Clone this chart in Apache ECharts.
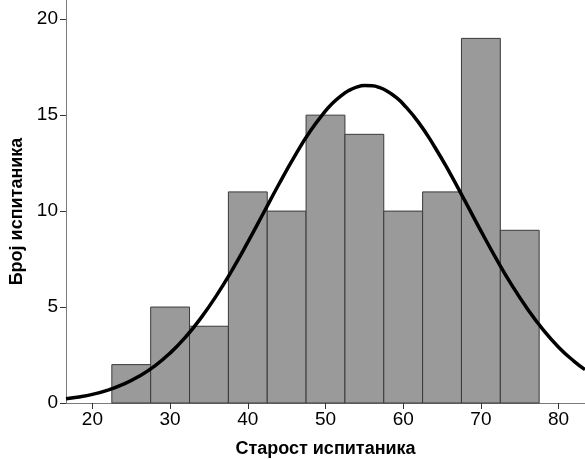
<!DOCTYPE html>
<html><head><meta charset="utf-8">
<script src="https://cdn.jsdelivr.net/npm/echarts@6/dist/echarts.min.js"></script>
<style>html,body{margin:0;padding:0;background:#fff}#c{width:585px;height:459px}</style>
</head><body><div id="c"></div>
<script>
// Histogram bins (age), width 5
const binStarts = [22.5, 27.5, 32.5, 37.5, 42.5, 47.5, 52.5, 57.5, 62.5, 67.5, 72.5];
const binWidth = 5;
const counts = [2, 5, 4, 11, 10, 15, 14, 10, 11, 19, 9];
// Normal curve
const curveX = [16.6, 18, 20, 22, 24, 26, 28, 30, 32, 34, 36, 38, 40, 42, 44, 46, 48, 50, 51, 52, 53, 54, 55, 56, 57, 58, 59, 60, 62, 64, 66, 68, 70, 72, 74, 76, 78, 80, 82, 83.4];
const curveY = [0.22, 0.30, 0.45, 0.67, 0.98, 1.39, 1.92, 2.60, 3.44, 4.45, 5.62, 6.94, 8.38, 9.89, 11.40, 12.84, 14.15, 15.22, 15.66, 16.01, 16.28, 16.46, 16.54, 16.53, 16.43, 16.23, 15.95, 15.58, 14.61, 13.38, 11.99, 10.49, 8.97, 7.50, 6.13, 4.90, 3.82, 2.91, 2.17, 1.74];
const xTicks = [20, 30, 40, 50, 60, 70, 80];
const yTicks = [0, 5, 10, 15, 20];

const chart = echarts.init(document.getElementById('c'));
const barData = binStarts.map((s, i) => [s, s + binWidth, counts[i]]);
const lineData = curveX.map((x, i) => [x, curveY[i]]);
const font = '"Liberation Sans", Arial, sans-serif';
chart.setOption({
  animation: false,
  grid: {left: 66, right: 0, top: 0, bottom: 56, containLabel: false, outerBoundsMode: 'none'},
  xAxis: {
    type: 'value', min: 16.6, max: 83.4,
    name: 'Старост испитаника', nameLocation: 'middle', nameGap: 37,
    nameTextStyle: {fontFamily: font, fontWeight: 'bold', fontSize: 18, color: '#000'},
    axisLine: {show: true, lineStyle: {color: '#7a7a7a', width: 1}},
    axisTick: {show: true, length: 6, customValues: xTicks, lineStyle: {color: '#333'}},
    axisLabel: {customValues: xTicks, fontFamily: font, fontSize: 19, color: '#000', margin: 7},
    splitLine: {show: false}
  },
  yAxis: {
    type: 'value', min: 0, max: 21,
    name: 'Број испитаника', nameLocation: 'middle', nameGap: 38, nameRotate: 90,
    nameTextStyle: {fontFamily: font, fontWeight: 'bold', fontSize: 18, color: '#000', padding: [0, 20, 0, 0]},
    axisLine: {show: true, lineStyle: {color: '#7a7a7a', width: 1}},
    axisTick: {show: true, length: 6, customValues: yTicks, lineStyle: {color: '#333'}},
    axisLabel: {customValues: yTicks, fontFamily: font, fontSize: 19, color: '#000', margin: 8},
    splitLine: {show: false}
  },
  series: [
    {
      type: 'custom',
      data: barData,
      renderItem: function (params, api) {
        const p0 = api.coord([api.value(0), 0]);
        const p1 = api.coord([api.value(1), api.value(2)]);
        return {
          type: 'rect',
          shape: {x: p0[0], y: p1[1], width: p1[0] - p0[0], height: p0[1] - p1[1]},
          style: {fill: '#9a9a9a', stroke: '#3a3a3a', lineWidth: 1}
        };
      },
      encode: {x: [0, 1], y: 2},
      z: 2
    },
    {
      type: 'line', data: lineData, smooth: true, showSymbol: false, symbol: 'none',
      lineStyle: {color: '#000', width: 3.5}, clip: true, z: 5
    }
  ]
});
</script></body></html>
